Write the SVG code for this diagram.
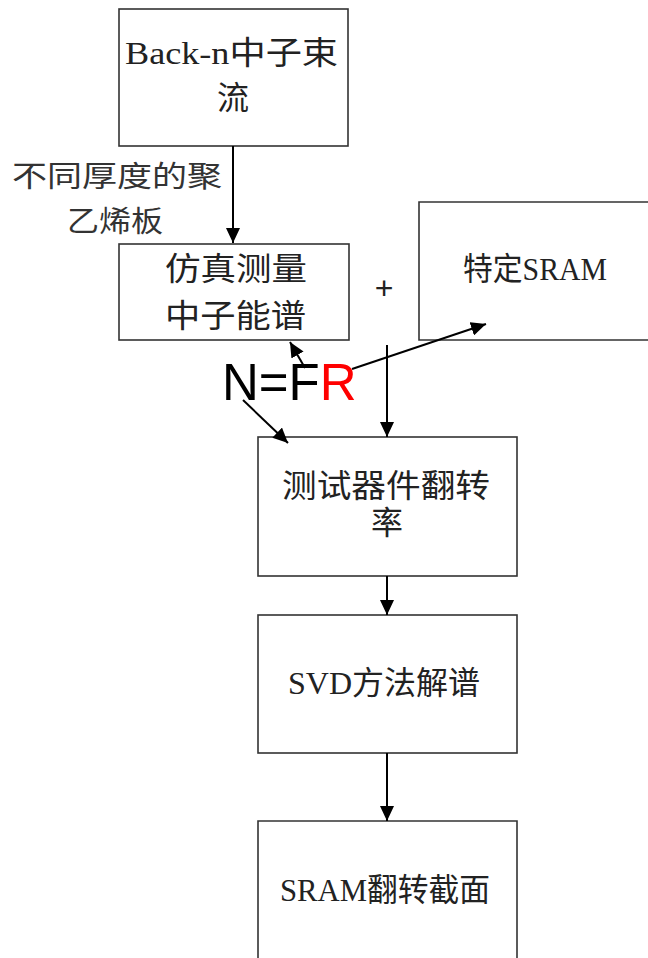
<svg xmlns="http://www.w3.org/2000/svg" width="648" height="958" viewBox="0 0 648 958">
<defs>
<style>
.box{fill:#fff;stroke:#333;stroke-width:1.6}
.t{font-family:"Liberation Serif","Noto Sans CJK SC",serif;font-size:32px;fill:#222}
.lbl{font-family:"Liberation Sans","Noto Sans CJK SC",sans-serif;font-size:29px;fill:#333}
.eq{font-family:"Liberation Sans",Arial,sans-serif;font-size:51px;fill:#000}
.c{stroke:#000;stroke-width:2;fill:none;marker-end:url(#ah)}
</style>
<marker id="ah" viewBox="0 0 15 14" refX="15" refY="7" markerWidth="15" markerHeight="14" markerUnits="userSpaceOnUse" orient="auto">
<path d="M0,0 L15,7 L0,14 z" fill="#000"/>
</marker>
</defs>
<rect width="648" height="958" fill="#fff"/>
<g id="n1">
<rect class="box" x="119" y="9" width="229" height="137"/>
<text class="t" x="125" y="64" textLength="213" lengthAdjust="spacingAndGlyphs">Back-n中子束</text>
<text class="t" x="233" y="109" text-anchor="middle">流</text>
</g>
<g id="label1">
<text class="lbl" x="12" y="187" textLength="210" lengthAdjust="spacingAndGlyphs">不同厚度的聚</text>
<text class="lbl" x="67" y="232" textLength="96" lengthAdjust="spacingAndGlyphs">乙烯板</text>
</g>
<g id="n2">
<rect class="box" x="119" y="244" width="230" height="96"/>
<text class="t" x="165" y="280" textLength="142" lengthAdjust="spacingAndGlyphs">仿真测量</text>
<text class="t" x="165" y="327" textLength="141" lengthAdjust="spacingAndGlyphs">中子能谱</text>
</g>
<g id="plus">
<text x="384" y="299" text-anchor="middle" style="font-family:'Liberation Sans',sans-serif;font-size:32px;fill:#222">+</text>
</g>
<g id="n3">
<path class="box" d="M650,202 L419,202 L419,340 L650,340"/>
<text class="t" x="463" y="280" textLength="144" lengthAdjust="spacingAndGlyphs">特定SRAM</text>
</g>
<g id="eq">
<text class="eq" x="222" y="400">N=F<tspan fill="#ff0000">R</tspan></text>
</g>
<g id="n4">
<rect class="box" x="258" y="437" width="259" height="139"/>
<text class="t" x="282" y="497" textLength="208" lengthAdjust="spacingAndGlyphs">测试器件翻转</text>
<text class="t" x="387" y="534" text-anchor="middle">率</text>
</g>
<g id="n5">
<rect class="box" x="258" y="615" width="259" height="138"/>
<text class="t" x="288" y="694" textLength="192" lengthAdjust="spacingAndGlyphs">SVD方法解谱</text>
</g>
<g id="n6">
<path class="box" d="M258,962 L258,821 L517,821 L517,962"/>
<text class="t" x="280" y="901" textLength="210" lengthAdjust="spacingAndGlyphs">SRAM翻转截面</text>
</g>
<g id="connectors">
<line class="c" x1="233" y1="146" x2="233" y2="243"/>
<line class="c" x1="387" y1="345" x2="387" y2="437"/>
<line class="c" x1="387" y1="576" x2="387" y2="615"/>
<line class="c" x1="387" y1="753" x2="387" y2="821"/>
<line class="c" x1="243" y1="400" x2="288" y2="443"/>
<line class="c" x1="305" y1="368" x2="290" y2="342"/>
<line class="c" x1="352" y1="369" x2="486" y2="324"/>
</g>
</svg>
